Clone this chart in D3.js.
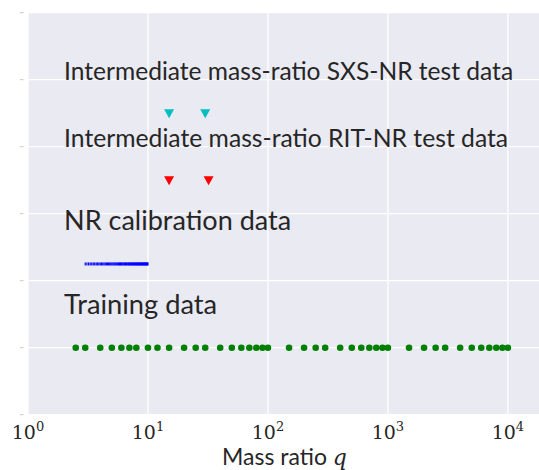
<!DOCTYPE html>
<html><head><meta charset="utf-8">
<script src="https://cdn.jsdelivr.net/npm/d3@7/dist/d3.min.js"></script>
<style>body{margin:0;background:#fff}svg{display:block}</style>
</head><body>
<svg id="c" width="539" height="470"></svg>
<script>
// ---- data ----
const trainingQ = [2.5,3,4,5,6,7,8,10,12,15,20,25,30,40,50,60,70,80,90,100,150,200,250,300,400,500,600,700,800,900,1000,1500,2000,2500,3000,4000,5000,6000,7000,8000,9000,10000];
const calibrationQ = [3.0,3.1,3.2,3.3,3.4,3.5,3.6,3.7,3.8,3.9,4.0,4.1,4.2,4.3,4.4,4.5,4.6,4.7,4.8,4.9,5.0,5.1,5.2,5.3,5.4,5.5,5.6,5.7,5.8,5.9,6.0,6.1,6.2,6.3,6.4,6.5,6.6,6.7,6.8,6.9,7.0,7.1,7.2,7.3,7.4,7.5,7.6,7.7,7.8,7.9,8.0,8.1,8.2,8.3,8.4,8.5,8.6,8.7,8.8,8.9,9.0,9.1,9.2,9.3,9.4,9.5,9.6,9.7,9.8,9.9,10.0];
const ritQ = [15, 32];
const sxsQ = [15, 30];
const rowY = {training: 0, calibration: 1.25, rit: 2.5, sxs: 3.5};
const labelTexts = ["Training data", "NR calibration data", "Intermediate mass-ratio RIT-NR test data", "Intermediate mass-ratio SXS-NR test data"];
const labelRows = [0.5, 1.75, 3.0, 4.0];
const labelQ = 2;
const xTicks = [1, 10, 100, 1000, 10000];
const xTickExp = ["0", "1", "2", "3", "4"];
const yTicks = [-1, 0, 1, 2, 3, 4, 5];
const xLabel = "Mass ratio ";
const xLabelVar = "q";

// ---- styles (not data) ----
const labelWidths = [153, 227, 444, 449];
const labelSizes = [26, 26, 25, 25];

// ---- layout ----
const svg = d3.select("#c");
const L = 28, R = 544, T = 12.7, B = 414.7;
const x = d3.scaleLog().domain([1, 2e4]).range([L, R]);
const y = d3.scaleLinear().domain([-1, 5]).range([B, T]);

svg.append("rect").attr("x", L).attr("y", T).attr("width", R - L).attr("height", B - T).attr("fill", "#EAEAF2");

const g = svg.append("g");
g.selectAll(".vg").data(xTicks).join("line")
  .attr("x1", d => x(d)).attr("x2", d => x(d)).attr("y1", T).attr("y2", B)
  .attr("stroke", "#fff").attr("stroke-width", 1.3);
g.selectAll(".hg").data(yTicks).join("line")
  .attr("x1", L).attr("x2", R).attr("y1", d => y(d)).attr("y2", d => y(d))
  .attr("stroke", "#fff").attr("stroke-width", 1.3);
g.selectAll(".yt").data(yTicks).join("line")
  .attr("x1", 20).attr("x2", 23.5).attr("y1", d => y(d)).attr("y2", d => y(d))
  .attr("stroke", "#c8c8c8").attr("stroke-width", 1);

// x tick labels
const tl = svg.append("g").attr("font-family", "'DejaVu Serif', 'Liberation Serif', serif").attr("fill", "#262626");
xTicks.forEach((t, i) => {
  const tx = tl.append("text").attr("x", x(t)).attr("y", 439).attr("text-anchor", "middle").attr("font-size", 19);
  tx.append("tspan").text("10");
  tx.append("tspan").attr("font-size", 13).attr("dy", -8).text(xTickExp[i]);
});

// axis label
const al = svg.append("text").attr("x", (L + 539) / 2 + 1).attr("y", 465).attr("text-anchor", "middle")
  .attr("fill", "#262626").attr("font-family", "Lato, 'Open Sans', sans-serif").attr("font-size", 23);
al.append("tspan").text(xLabel);
al.append("tspan").attr("font-family", "'DejaVu Serif', serif").attr("font-style", "italic").attr("font-size", 22).text(xLabelVar);

// labels
svg.selectAll(".lab").data(labelTexts).join("text")
  .attr("x", x(labelQ)).attr("y", (d, i) => y(labelRows[i]))
  .attr("fill", "#262626").attr("font-family", "Lato, 'Open Sans', sans-serif")
  .attr("font-size", (d, i) => labelSizes[i])
  .attr("textLength", (d, i) => labelWidths[i]).attr("lengthAdjust", "spacingAndGlyphs")
  .text(d => d);

// training
svg.selectAll(".tr").data(trainingQ).join("circle")
  .attr("cx", d => x(d)).attr("cy", y(rowY.training)).attr("r", 3.3).attr("fill", "#008000");
// calibration
svg.selectAll(".ca").data(calibrationQ).join("rect")
  .attr("x", d => x(d) - 0.6).attr("y", y(rowY.calibration) - 1.5).attr("width", 1.2).attr("height", 3)
  .attr("fill", "#0000ff");
// triangles
const tri = "M-5,-4L5,-4L0,5Z";
svg.selectAll(".rit").data(ritQ).join("path")
  .attr("d", tri).attr("transform", d => `translate(${x(d)},${y(rowY.rit)})`).attr("fill", "#ff0000");
svg.selectAll(".sxs").data(sxsQ).join("path")
  .attr("d", tri).attr("transform", d => `translate(${x(d)},${y(rowY.sxs)})`).attr("fill", "#00bfbf");
</script>
</body></html>
